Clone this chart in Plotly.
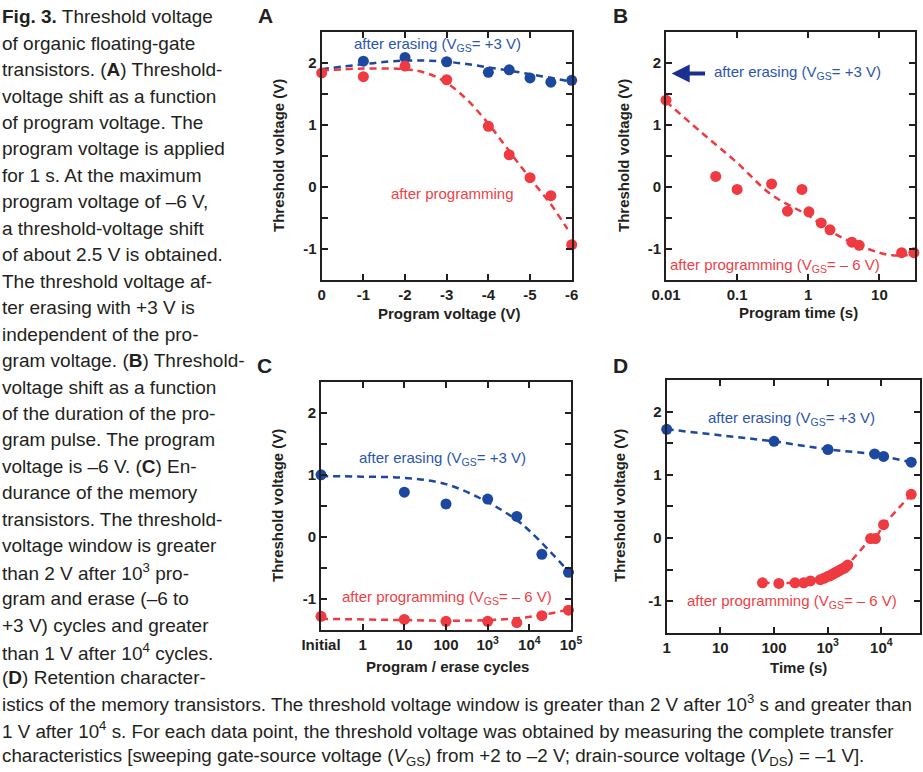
import plotly.graph_objects as go

W, H = 923, 772

# ---------------- data ----------------
# Panel A
a_xticks = [0, -1, -2, -3, -4, -5, -6]
a_xticklabels = ["0", "-1", "-2", "-3", "-4", "-5", "-6"]
a_erase_x = [-1, -2, -3, -4, -4.5, -5, -5.5, -6]
a_erase_y = [2.03, 2.09, 2.02, 1.85, 1.89, 1.76, 1.69, 1.72]
a_prog_x = [0, -1, -2, -3, -4, -4.5, -5, -5.5, -6]
a_prog_y = [1.84, 1.78, 1.95, 1.73, 0.98, 0.52, 0.15, -0.14, -0.93]
a_erase_fit_x = [0, -1, -2, -3, -4, -5, -6]
a_erase_fit_y = [1.90, 1.98, 2.04, 2.02, 1.93, 1.82, 1.70]
a_prog_fit_x = [0, -1, -2, -2.5, -3, -3.5, -4, -4.5, -5, -5.5, -5.9]
a_prog_fit_y = [1.88, 1.91, 1.90, 1.84, 1.68, 1.40, 1.02, 0.58, 0.14, -0.28, -0.68]

# Panel B
b_xticks = [0.01, 0.1, 1, 10]
b_xticklabels = ["0.01", "0.1", "1", "10"]
b_prog_t = [0.01, 0.05, 0.1, 0.305, 0.51, 0.815, 1.02, 1.52, 2.02, 4.1, 5.2, 20.5, 30.5]
b_prog_y = [1.40, 0.17, -0.04, 0.05, -0.39, -0.04, -0.40, -0.58, -0.69, -0.89, -0.94, -1.06, -1.06]
b_fit_t = [0.01, 0.03, 0.1, 0.3, 1, 3, 10, 15, 25]
b_fit_y = [1.38, 0.90, 0.39, -0.12, -0.46, -0.82, -1.06, -1.10, -1.10]

# Panel C
c_xticks = [0.1, 1, 10, 100, 1e3, 1e4, 1e5]
c_xticklabels = ["Initial", "1", "10", "100", "10<sup>3</sup>", "10<sup>4</sup>", "10<sup>5</sup>"]
c_cycles = [0.1, 10, 100, 1000, 5000, 20000, 87000]
c_erase_y = [1.00, 0.72, 0.53, 0.61, 0.33, -0.28, -0.57]
c_prog_y = [-1.28, -1.33, -1.36, -1.36, -1.38, -1.27, -1.18]
c_erase_fit_x = [0.1, 1, 10, 100, 1000, 5000, 10000, 30000, 100000]
c_erase_fit_y = [0.98, 0.97, 0.95, 0.85, 0.56, 0.27, 0.10, -0.22, -0.60]
c_prog_fit_x = [0.1, 10, 100, 1000, 5000, 20000, 100000]
c_prog_fit_y = [-1.32, -1.34, -1.35, -1.34, -1.31, -1.26, -1.16]

# Panel D
d_xticks = [1, 10, 100, 1e3, 1e4]
d_xticklabels = ["1", "10", "100", "10<sup>3</sup>", "10<sup>4</sup>"]
d_erase_t = [1, 100, 1010, 7500, 11000, 36000]
d_erase_y = [1.72, 1.53, 1.40, 1.33, 1.29, 1.20]
d_prog_t = [61, 123, 246, 356, 477, 729, 850, 1000, 1100, 1190, 1280, 1370, 1480,
            1600, 1720, 1850, 2000, 2150, 2360, 6300, 7750, 11000, 36000]
d_prog_y = [-0.71, -0.72, -0.71, -0.71, -0.68, -0.66, -0.64, -0.61, -0.60, -0.58, -0.57,
            -0.55, -0.54, -0.52, -0.51, -0.49, -0.48, -0.46, -0.43, -0.01, -0.01, 0.21, 0.69]

y_ticks = [-1, 0, 1, 2]
y_ticklabels = ["-1", "0", "1", "2"]
y_minor_ticks = [-0.5, 0.5, 1.5]

caption_column = [
    "<b>Fig. 3.</b> Threshold voltage",
    "of organic floating-gate",
    "transistors. (<b>A</b>) Threshold-",
    "voltage shift as a function",
    "of program voltage. The",
    "program voltage is applied",
    "for 1 s. At the maximum",
    "program voltage of \u20136 V,",
    "a threshold-voltage shift",
    "of about 2.5 V is obtained.",
    "The threshold voltage af-",
    "ter erasing with +3 V is",
    "independent of the pro-",
    "gram voltage. (<b>B</b>) Threshold-",
    "voltage shift as a function",
    "of the duration of the pro-",
    "gram pulse. The program",
    "voltage is \u20136 V. (<b>C</b>) En-",
    "durance of the memory",
    "transistors. The threshold-",
    "voltage window is greater",
    "than 2 V after 10<sup>3</sup> pro-",
    "gram and erase (\u20136 to",
    "+3 V) cycles and greater",
    "than 1 V after 10<sup>4</sup> cycles.",
    "(<b>D</b>) Retention character-",
]
caption_full = [
    "istics of the memory transistors. The threshold voltage window is greater than 2 V after 10<sup>3</sup> s and greater than",
    "1 V after 10<sup>4</sup> s. For each data point, the threshold voltage was obtained by measuring the complete transfer",
    "characteristics [sweeping gate-source voltage (<i>V</i><sub>GS</sub>) from +2 to \u20132 V; drain-source voltage (<i>V</i><sub>DS</sub>) = \u20131 V].",
]

# ---------------- styles ----------------
BLUE = "#1c48a0"
RED = "#ee3a40"
BLUE_T = "#2b55ae"
RED_T = "#ef4046"
INK = "#231f20"
FONT = "Liberation Sans, Arial, sans-serif"
CAP_FONT = "Liberation Sans, Arial, sans-serif"

def px(x):
    return x / W

def py(y):
    return 1 - y / H

fig = go.Figure()

def add_pts(x, y, color, xa, ya, lines=False):
    fig.add_trace(go.Scatter(
        x=x, y=y, xaxis=xa, yaxis=ya,
        mode="lines+markers" if lines else "markers",
        marker=dict(color=color, size=11),
        line=dict(color=color, width=2.5, dash="7px,5px"),
        cliponaxis=False, showlegend=False, hoverinfo="skip"))

def add_fit(x, y, color, xa, ya):
    fig.add_trace(go.Scatter(
        x=x, y=y, xaxis=xa, yaxis=ya, mode="lines",
        line=dict(color=color, width=2.5, dash="7px,5px", shape="spline", smoothing=1.0),
        showlegend=False, hoverinfo="skip"))

# A
add_fit(a_erase_fit_x, a_erase_fit_y, BLUE, "x", "y")
add_fit(a_prog_fit_x, a_prog_fit_y, RED, "x", "y")
add_pts(a_erase_x, a_erase_y, BLUE, "x", "y")
add_pts(a_prog_x, a_prog_y, RED, "x", "y")
# B
add_fit(b_fit_t, b_fit_y, RED, "x2", "y2")
add_pts(b_prog_t, b_prog_y, RED, "x2", "y2")
# C
add_fit(c_erase_fit_x, c_erase_fit_y, BLUE, "x3", "y3")
add_fit(c_prog_fit_x, c_prog_fit_y, RED, "x3", "y3")
add_pts(c_cycles, c_erase_y, BLUE, "x3", "y3")
add_pts(c_cycles, c_prog_y, RED, "x3", "y3")
# D
add_pts(d_erase_t, d_erase_y, BLUE, "x4", "y4", lines=True)
add_pts(d_prog_t, d_prog_y, RED, "x4", "y4", lines=True)

axis_common = dict(
    showline=True, linecolor=INK, linewidth=2, mirror="ticks",
    ticks="inside", ticklen=6, tickwidth=2, tickcolor=INK,
    showgrid=False, zeroline=False, fixedrange=True, automargin=False,
    tickfont=dict(family=FONT, size=15, color=INK, weight="bold"),
)

def yax(anchor, top, bottom):
    return dict(axis_common, domain=[py(bottom), py(top)], anchor=anchor,
                range=[-1.5, 2.5], tickvals=y_ticks, ticktext=y_ticklabels,
                minor=dict(tickvals=y_minor_ticks, ticks="inside", ticklen=6,
                           tickwidth=2, tickcolor=INK, showgrid=False))

fig.update_layout(
    width=W, height=H, margin=dict(l=0, r=0, t=0, b=0, pad=0, autoexpand=False),
    paper_bgcolor="white", plot_bgcolor="white",
    xaxis=dict(axis_common, domain=[px(321.7), px(571.7)], anchor="y",
               range=[0, -6], tickvals=a_xticks, ticktext=a_xticklabels),
    yaxis=yax("x", 32, 280),
    xaxis2=dict(axis_common, domain=[px(666), px(915)], anchor="y2", type="log",
                range=[-2, 1.5], tickvals=b_xticks, ticktext=b_xticklabels),
    yaxis2=yax("x2", 32, 280),
    xaxis3=dict(axis_common, domain=[px(321), px(571)], anchor="y3", type="log",
                range=[-1, 5], tickvals=c_xticks, ticktext=c_xticklabels),
    yaxis3=yax("x3", 381.7, 630),
    xaxis4=dict(axis_common, domain=[px(666.7), px(920)], anchor="y4", type="log",
                range=[0, 4.72], tickvals=d_xticks, ticktext=d_xticklabels),
    yaxis4=yax("x4", 380, 632.7),
)

ann = []

def paper_text(x, y, text, size=15, bold=True, angle=0, color=INK, family=FONT, xanchor="center"):
    ann.append(dict(x=px(x), y=py(y), xref="paper", yref="paper", text=text,
                    showarrow=False, xanchor=xanchor, yanchor="middle", textangle=angle,
                    font=dict(family=family, size=size, color=color,
                              weight="bold" if bold else "normal")))

# panel letters
paper_text(265, 16, "A", size=21)
paper_text(620, 16, "B", size=21)
paper_text(264, 365, "C", size=21)
paper_text(620, 365, "D", size=21)

# axis titles
for xx, yy in [(278, 156), (623, 156), (277, 506), (619, 506)]:
    paper_text(xx, yy, "Threshold voltage (V)", size=15, angle=-90)
paper_text(449, 313, "Program voltage (V)", size=15)
paper_text(798, 312, "Program time (s)", size=15)
paper_text(447, 666, "Program / erase cycles", size=15)
paper_text(798, 667, "Time (s)", size=15)

ERASE = "after erasing (V<sub>GS</sub>= +3 V)"
PROG = "after programming (V<sub>GS</sub>= \u2013 6 V)"

def data_text(xref, yref, x, y, text, color, xanchor="center"):
    ann.append(dict(x=x, y=y, xref=xref, yref=yref, text=text, showarrow=False,
                    xanchor=xanchor, yanchor="middle",
                    font=dict(family=FONT, size=15, color=color)))

data_text("x", "y", -2.79, 2.3, ERASE, BLUE_T)
data_text("x", "y", -3.15, -0.1, "after programming", RED_T)
data_text("x2", "y2", -1.36, 1.85, ERASE, BLUE_T, xanchor="left")
data_text("x2", "y2", -1.97, -1.26, PROG, RED_T, xanchor="left")
data_text("x3", "y3", 1.92, 1.27, ERASE, BLUE_T)
data_text("x3", "y3", 2.02, -0.97, PROG, RED_T)
data_text("x4", "y4", 2.33, 1.89, ERASE, BLUE_T)
data_text("x4", "y4", 2.33, -1.0, PROG, RED_T)

# arrow in B
ann.append(dict(x=-1.92, y=1.83, xref="x2", yref="y2", ax=-1.43, ay=1.83,
                axref="x2", ayref="y2", text="", showarrow=True,
                arrowhead=2, arrowsize=0.9, arrowwidth=4, arrowcolor="#1b2f8f"))

# caption
for i, line in enumerate(caption_column):
    paper_text(0, 16.7 + 26.45 * i, line, size=19, bold=False, family=CAP_FONT, xanchor="left")
for i, line in enumerate(caption_full):
    paper_text(0, 703 + 27 * i, line, size=18.8, bold=False, family=CAP_FONT, xanchor="left")

fig.update_layout(annotations=ann)
fig.write_html("out.html", config={"displayModeBar": False},
               post_script="document.body.style.margin='0px';document.body.style.padding='0px';")
